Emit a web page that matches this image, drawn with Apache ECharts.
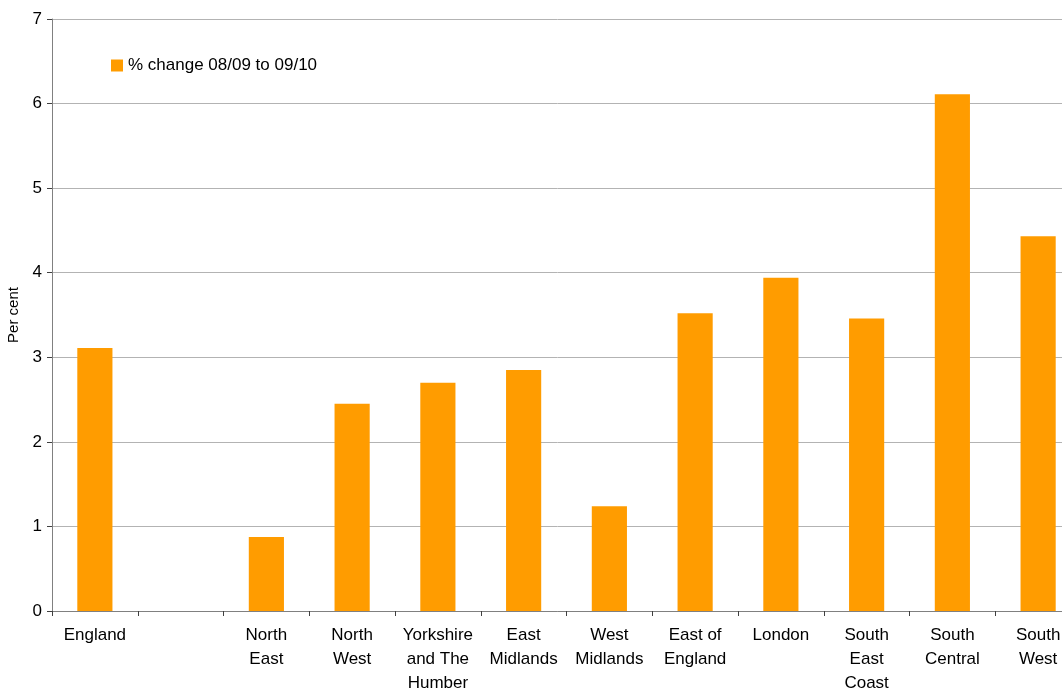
<!DOCTYPE html>
<html>
<head>
<meta charset="utf-8">
<script src="https://cdn.jsdelivr.net/npm/echarts@6/dist/echarts.min.js"></script>
<style>html,body{margin:0;padding:0;background:#fff}#c{width:1062px;height:693px}</style>
</head>
<body>
<div id="c"></div>
<script>
const categories = ["England", "", "North\nEast", "North\nWest", "Yorkshire\nand The\nHumber", "East\nMidlands", "West\nMidlands", "East of\nEngland", "London", "South\nEast\nCoast", "South\nCentral", "South\nWest"];
const values = [3.11, null, 0.875, 2.45, 2.70, 2.85, 1.24, 3.52, 3.94, 3.46, 6.11, 4.43];
const seriesName = "% change 08/09 to 09/10";
const yTicks = [0, 1, 2, 3, 4, 5, 6, 7];

const chart = echarts.init(document.getElementById('c'), null, {renderer: 'canvas'});
const font = '"Liberation Sans", Arial, sans-serif';
chart.setOption({
  animation: false,
  grid: {left: 52, top: 19, width: 1029, height: 592, containLabel: false, outerBoundsMode: 'none'},
  legend: {
    data: [seriesName], left: 106, top: 52, itemWidth: 12, itemHeight: 12, itemGap: 5,
    icon: 'rect', textStyle: {fontFamily: font, fontSize: 17, color: '#000'}
  },
  xAxis: {
    type: 'category', data: categories,
    axisLine: {lineStyle: {color: '#808080', width: 1}},
    axisTick: {show: true, length: 5, lineStyle: {color: '#404040'}},
    axisLabel: {interval: 0, fontFamily: font, fontSize: 17, color: '#000', lineHeight: 24, margin: 12}
  },
  yAxis: {
    type: 'value', min: yTicks[0], max: yTicks[yTicks.length - 1], interval: 1,
    name: 'Per cent', nameLocation: 'middle', nameGap: 29, nameRotate: 90,
    nameTextStyle: {fontFamily: font, fontSize: 15, color: '#000'},
    axisLine: {show: true, lineStyle: {color: '#808080'}},
    axisTick: {show: true, inside: false, length: 5, lineStyle: {color: '#404040'}},
    axisLabel: {fontFamily: font, fontSize: 17, color: '#000', margin: 10},
    splitLine: {lineStyle: {color: '#b3b3b3', width: 1}}
  },
  series: [{
    name: seriesName, type: 'bar', data: values, barWidth: '41%',
    itemStyle: {color: '#ff9c00'}
  }]
});
</script>
</body>
</html>
